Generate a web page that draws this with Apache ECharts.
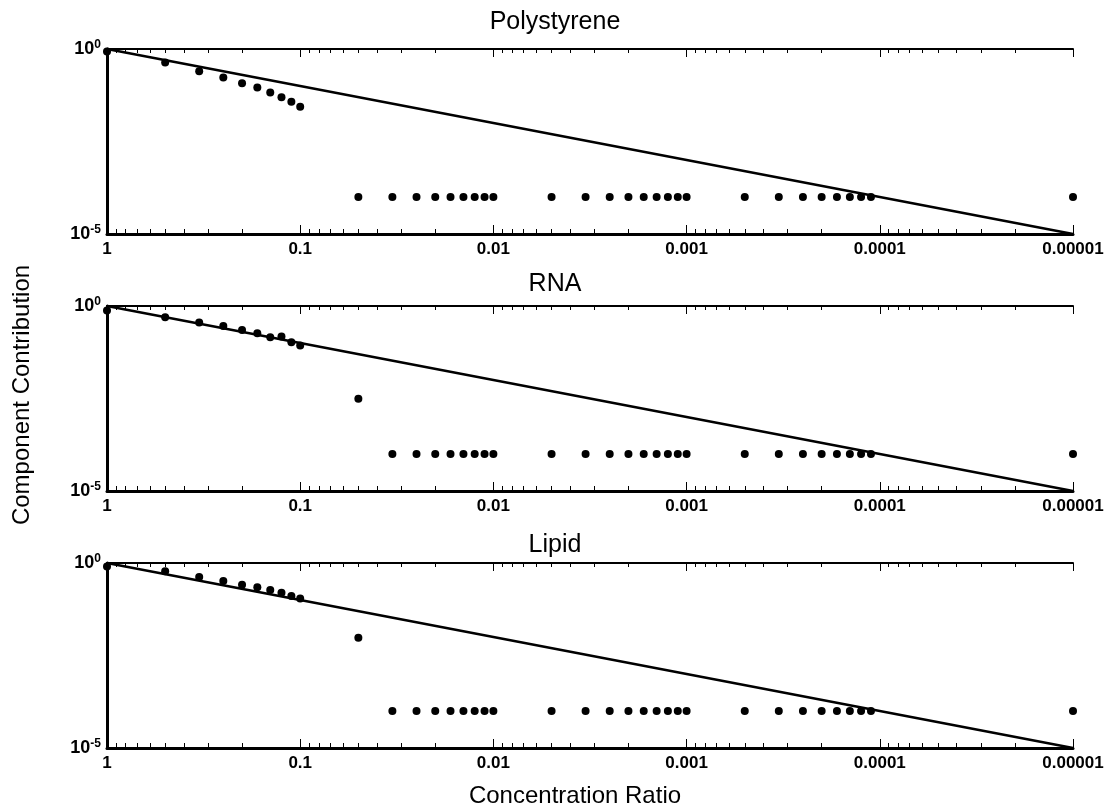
<!DOCTYPE html>
<html>
<head>
<meta charset="utf-8">
<script src="https://cdn.jsdelivr.net/npm/echarts@6/dist/echarts.min.js"></script>
<style>
html, body { margin: 0; padding: 0; background: #fff; }
#main { width: 1120px; height: 810px; }
</style>
</head>
<body>
<div id="main"></div>
<script>
var chart = echarts.init(document.getElementById('main'));

// x values of the dots (concentration ratio, 1/n)
var conc_ratio = [1, 0.5, 0.3333, 0.25, 0.2, 0.1667, 0.1429, 0.125, 0.1111, 0.1,
    0.05, 0.03333, 0.025, 0.02, 0.01667, 0.01429, 0.0125, 0.01111, 0.01,
    0.005, 0.003333, 0.0025, 0.002, 0.001667, 0.001429, 0.00125, 0.001111, 0.001,
    0.0005, 0.0003333, 0.00025, 0.0002, 0.0001667, 0.0001429, 0.000125, 0.0001111,
    0.00001];

var polystyrene = [0.86, 0.43, 0.25, 0.17, 0.118, 0.091, 0.067, 0.05, 0.0376, 0.0275,
    0.0001, 0.0001, 0.0001, 0.0001, 0.0001, 0.0001, 0.0001, 0.0001, 0.0001,
    0.0001, 0.0001, 0.0001, 0.0001, 0.0001, 0.0001, 0.0001, 0.0001, 0.0001,
    0.0001, 0.0001, 0.0001, 0.0001, 0.0001, 0.0001, 0.0001, 0.0001,
    0.0001];

var rna = [0.75, 0.5, 0.36, 0.29, 0.226, 0.184, 0.143, 0.149, 0.104, 0.086,
    0.0031, 0.0001, 0.0001, 0.0001, 0.0001, 0.0001, 0.0001, 0.0001, 0.0001,
    0.0001, 0.0001, 0.0001, 0.0001, 0.0001, 0.0001, 0.0001, 0.0001, 0.0001,
    0.0001, 0.0001, 0.0001, 0.0001, 0.0001, 0.0001, 0.0001, 0.0001,
    0.0001];

var lipid = [0.81, 0.6, 0.42, 0.325, 0.26, 0.22, 0.185, 0.158, 0.128, 0.11,
    0.0095, 0.0001, 0.0001, 0.0001, 0.0001, 0.0001, 0.0001, 0.0001, 0.0001,
    0.0001, 0.0001, 0.0001, 0.0001, 0.0001, 0.0001, 0.0001, 0.0001, 0.0001,
    0.0001, 0.0001, 0.0001, 0.0001, 0.0001, 0.0001, 0.0001, 0.0001,
    0.0001];

// reference line y = x
var line_x = [1, 0.00001];
var line_y = [1, 0.00001];

var x_tick_labels = ['1', '0.1', '0.01', '0.001', '0.0001', '0.00001'];
var panel_titles = ['Polystyrene', 'RNA', 'Lipid'];
var panel_values = [polystyrene, rna, lipid];

var font = '"Liberation Sans", Arial, sans-serif';
var grid_tops = [49, 306, 563];
var title_ys = [22, 284, 545];
var grid_height = 185;

// minor tick positions in log10 units (2..9 in every decade)
var minor_ticks = [];
for (var d = 0; d < 5; d++) {
    for (var k = 2; k <= 9; k++) {
        minor_ticks.push(-d - 1 + Math.log10(k));
    }
}

function pairs(xs, ys) {
    var out = [];
    for (var i = 0; i < xs.length; i++) out.push([xs[i], ys[i]]);
    return out;
}

function fmt_x(v) {
    var i = Math.round(-Math.log10(v));
    return x_tick_labels[i] || '';
}

function fmt_y(v) {
    var e = Math.round(Math.log10(v));
    if (e === 0) return '{b|10}{s|0}';
    if (e === -5) return '{b|10}{s|-5}';
    return '';
}

var grids = [], x_axes = [], y_axes = [], series = [], graphics = [];

for (var p = 0; p < 3; p++) {
    grids.push({ left: 107, right: 47, top: grid_tops[p], height: grid_height });

    // main log axis (bottom, with labels)
    x_axes.push({
        gridIndex: p, type: 'log', logBase: 10, min: 0.00001, max: 1, inverse: true,
        position: 'bottom',
        axisLine: { lineStyle: { color: '#000', width: 3 } },
        axisTick: { inside: true, length: 9, lineStyle: { color: '#000', width: 1 } },
        axisLabel: {
            formatter: fmt_x, color: '#000', fontFamily: font, fontWeight: 'bold',
            fontSize: 17, margin: 7, showMinLabel: true, showMaxLabel: true
        },
        splitLine: { show: false }
    });
    // top log axis (frame)
    x_axes.push({
        gridIndex: p, type: 'log', logBase: 10, min: 0.00001, max: 1, inverse: true,
        position: 'top',
        axisLine: { lineStyle: { color: '#000', width: 2 } },
        axisTick: { inside: true, length: 8, lineStyle: { color: '#000', width: 1 } },
        axisLabel: { show: false },
        splitLine: { show: false }
    });
    // minor ticks bottom / top
    x_axes.push({
        gridIndex: p, type: 'value', min: -5, max: 0, inverse: true, position: 'bottom',
        axisLine: { show: false },
        axisTick: { inside: true, length: 5, customValues: minor_ticks, lineStyle: { color: '#000', width: 1 } },
        axisLabel: { show: false },
        splitLine: { show: false }
    });
    x_axes.push({
        gridIndex: p, type: 'value', min: -5, max: 0, inverse: true, position: 'top',
        axisLine: { show: false },
        axisTick: { inside: true, length: 4, customValues: minor_ticks, lineStyle: { color: '#000', width: 1 } },
        axisLabel: { show: false },
        splitLine: { show: false }
    });

    y_axes.push({
        gridIndex: p, type: 'log', logBase: 10, min: 0.00001, max: 1, position: 'left',
        axisLine: { show: true, lineStyle: { color: '#000', width: 3 } },
        axisTick: { show: false },
        axisLabel: {
            formatter: fmt_y, margin: 6, showMinLabel: true, showMaxLabel: true,
            rich: {
                b: { fontFamily: font, fontWeight: 'bold', fontSize: 18, color: '#000' },
                s: { fontFamily: font, fontWeight: 'bold', fontSize: 12, color: '#000', verticalAlign: 'top', padding: [0, 0, 8, 0] }
            }
        },
        splitLine: { show: false }
    });
    y_axes.push({
        gridIndex: p, type: 'log', logBase: 10, min: 0.00001, max: 1, position: 'right',
        axisLine: { show: true, lineStyle: { color: '#000', width: 2 } },
        axisTick: { show: false },
        axisLabel: { show: false },
        splitLine: { show: false }
    });

    series.push({
        name: panel_titles[p] + ' fit',
        type: 'line',
        xAxisIndex: p * 4, yAxisIndex: p * 2,
        data: pairs(line_x, line_y),
        showSymbol: false,
        lineStyle: { color: '#000', width: 2.5 },
        silent: true
    });
    series.push({
        name: panel_titles[p],
        type: 'scatter',
        xAxisIndex: p * 4, yAxisIndex: p * 2,
        data: pairs(conc_ratio, panel_values[p]),
        symbolSize: 8,
        itemStyle: { color: '#000', opacity: 1 },
        clip: false
    });

    graphics.push({
        type: 'text', x: 555, y: title_ys[p],
        style: {
            text: panel_titles[p], font: '25px ' + font, fill: '#000',
            textAlign: 'center', textVerticalAlign: 'middle'
        }
    });
}

graphics.push({
    type: 'text', x: 575, y: 796,
    style: {
        text: 'Concentration Ratio', font: '24px ' + font, fill: '#000',
        textAlign: 'center', textVerticalAlign: 'middle'
    }
});
graphics.push({
    type: 'text', x: 22, y: 395, rotation: Math.PI / 2,
    style: {
        text: 'Component Contribution', font: '24px ' + font, fill: '#000',
        textAlign: 'center', textVerticalAlign: 'middle'
    }
});

var option = {
    animation: false,
    backgroundColor: '#fff',
    grid: grids,
    xAxis: x_axes,
    yAxis: y_axes,
    series: series,
    graphic: graphics
};

chart.setOption(option);
</script>
</body>
</html>
